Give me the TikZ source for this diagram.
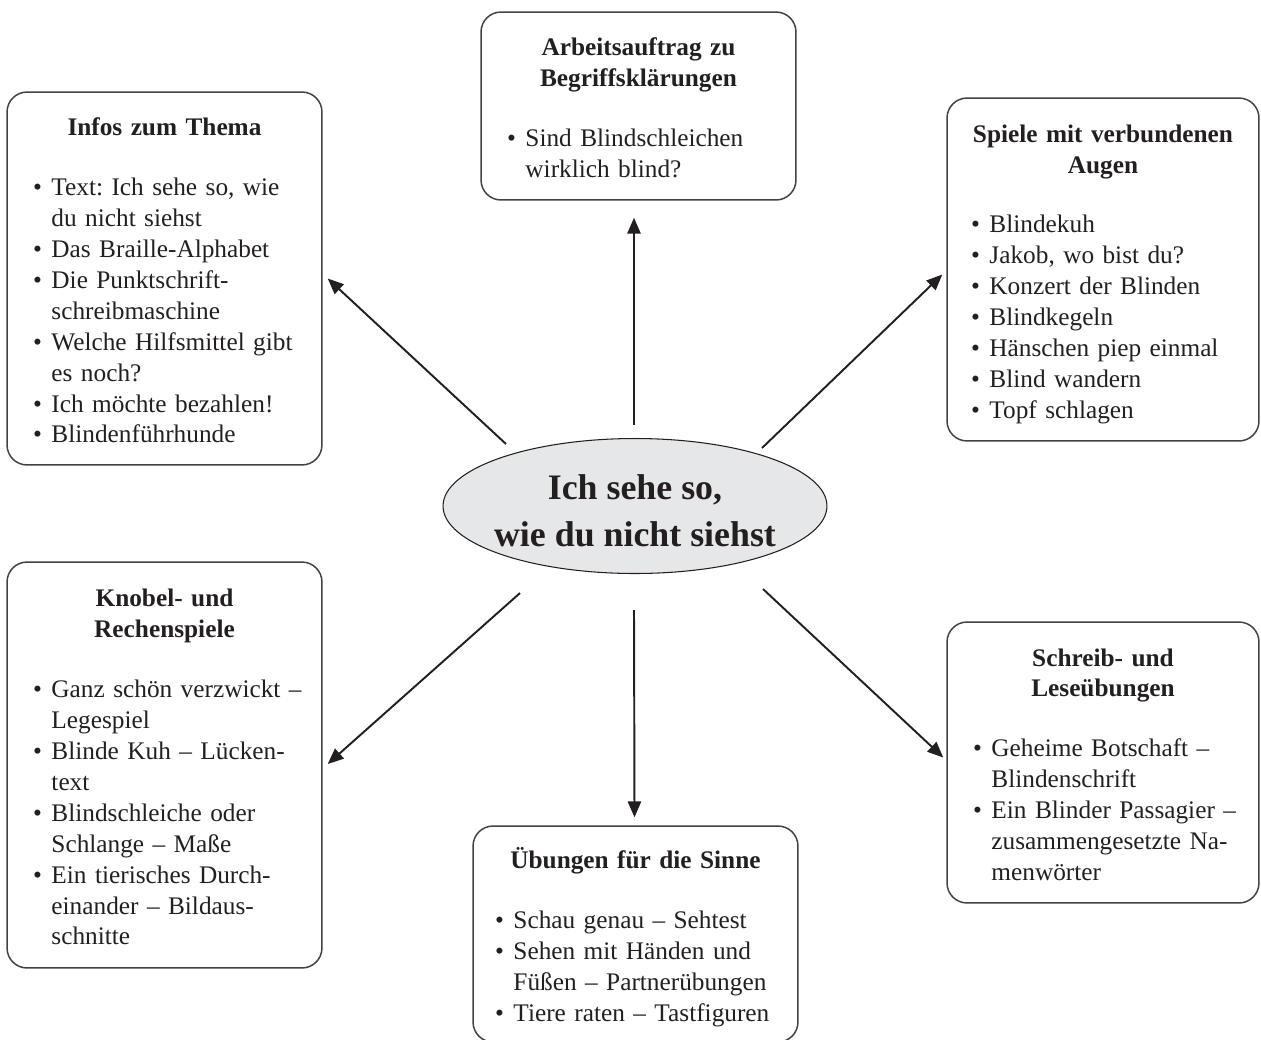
\documentclass[tikz,border=0pt]{standalone}
\usepackage{fontspec}
\setmainfont{Liberation Serif}
\usetikzlibrary{shapes,arrows.meta,calc}
\definecolor{ink}{RGB}{35,31,32}
\definecolor{ellgray}{RGB}{230,231,233}
\newcommand\boxtitle[1]{\par\centerline{\bfseries #1}}
\newcommand\bul[1]{\par\noindent\makebox[10.5pt][l]{\textbullet}\begin{tabular}[t]{@{}l@{}}#1\end{tabular}}
\begin{document}
\begin{tikzpicture}
  [x=0.02cm,y=-0.02cm,every node/.style={text=ink},
   mapbox/.style={draw=ink!85,line width=0.85pt,rounded corners=0.4cm,inner xsep=0.52cm,inner ysep=0pt,
     font={\fontsize{14.4}{17.6}\selectfont\lineskip=0pt\frenchspacing}},
   arr/.style={-{Triangle[length=9pt,width=7.5pt]},line width=1.1pt,draw=ink}]
  \useasboundingbox (0,0) rectangle (1261,1039);

  \node[ellipse,draw=ink,line width=0.6pt,fill=ellgray,minimum width=7.68cm,minimum height=2.7cm,
    inner sep=0pt,align=center,font={\fontsize{20.4}{26.6}\selectfont\bfseries}]
    (ell) at (635,506) {\rule{0pt}{19.6pt}\makebox[0pt]{Ich sehe so,}\\\makebox[0pt]{wie du nicht siehst}};

  \node[mapbox,text width=5.26cm,minimum height=3.76cm] (auftrag) at (638.5,106)
    {\boxtitle{Arbeitsauftrag zu}\boxtitle{Begriffsklärungen}\vspace{16.5pt}
     \bul{Sind Blindschleichen\\wirklich blind?}};
  \node[mapbox,text width=5.26cm,minimum height=7.46cm] (infos) at (164.5,278.5)
    {\boxtitle{Infos zum Thema}\vspace{16.5pt}
     \bul{Text: Ich sehe so, wie\\du nicht siehst}
     \bul{Das Braille-Alphabet}
     \bul{Die Punktschrift-\\schreibmaschine}
     \bul{Welche Hilfsmittel gibt\\es noch?}
     \bul{Ich möchte bezahlen!}
     \bul{Blindenführhunde}};
  \node[mapbox,inner xsep=0.48cm,text width=5.28cm,minimum height=6.86cm] (spiele) at (1103,269.5)
    {\boxtitle{Spiele mit verbundenen}\boxtitle{Augen}\vspace{16.5pt}
     \bul{Blindekuh}
     \bul{Jakob, wo bist du?}
     \bul{Konzert der Blinden}
     \bul{Blindkegeln}
     \bul{Hänschen piep einmal}
     \bul{Blind wandern}
     \bul{Topf schlagen}};
  \node[mapbox,text width=5.26cm,minimum height=8.12cm] (knobel) at (164.5,765)
    {\boxtitle{Knobel- und}\boxtitle{Rechenspiele}\vspace{16.5pt}
     \bul{Ganz schön verzwickt –\\Legespiel}
     \bul{Blinde Kuh – Lücken-\\text}
     \bul{Blindschleiche oder\\Schlange – Maße}
     \bul{Ein tierisches Durch-\\einander – Bildaus-\\schnitte}};
  \node[mapbox,text width=5.2cm,minimum height=5.62cm] (schreib) at (1103,762.5)
    {\boxtitle{Schreib- und}\boxtitle{Leseübungen}\vspace{16.5pt}
     \bul{Geheime Botschaft –\\Blindenschrift}
     \bul{Ein Blinder Passagier –\\zusammengesetzte Na-\\menwörter}};
  \node[mapbox,inner xsep=0.44cm,text width=5.62cm,minimum height=4.32cm] (uebungen) at (635.5,934)
    {\boxtitle{Übungen für die Sinne}\vspace{16.5pt}
     \bul{Schau genau – Sehtest}
     \bul{Sehen mit Händen und\\Füßen – Partnerübungen}
     \bul{Tiere raten – Tastfiguren}};

  \draw[arr] ($(ell.center)+(-1,-81)$) -- ($(auftrag.south)+(-4.5,17)$);
  \draw[arr] ($(ell.center)+(-129,-62)$) -- ($(infos.east)+(5,0)$);
  \draw[arr] ($(ell.center)+(127,-58)$) -- ($(spiele.west)+(-4,5)$);
  \draw[arr] ($(ell.center)+(-115,87)$) -- ($(knobel.east)+(5,-1)$);
  \draw[arr] ($(ell.center)+(128,83)$) -- ($(schreib.west)+(-3,-5)$);
  \draw[arr] ($(ell.center)+(-1,104)$) -- ($(uebungen.north)+(-1,-8)$);
\end{tikzpicture}
\end{document}
